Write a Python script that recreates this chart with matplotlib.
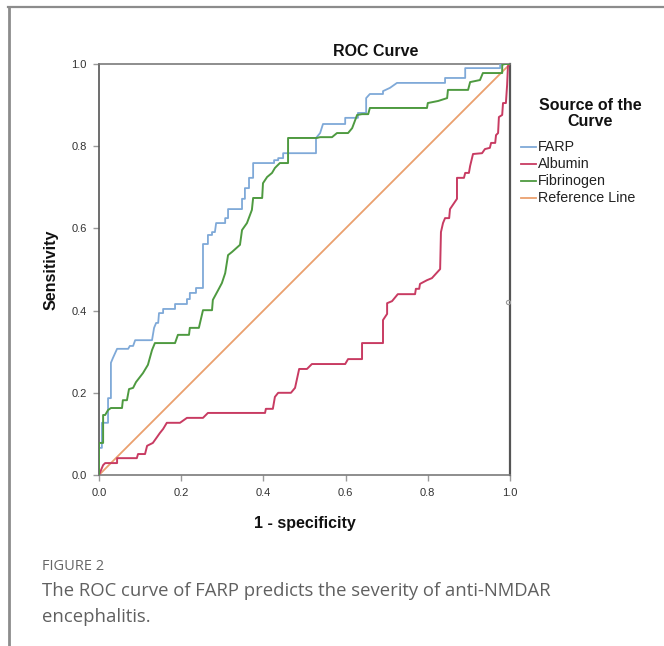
import matplotlib
matplotlib.use("Agg")
import matplotlib.pyplot as plt
from matplotlib.lines import Line2D

# ---------------- data ----------------
farp_x = [0, 0, 0.007, 0.007, 0.022, 0.022, 0.029, 0.029, 0.034, 0.044, 0.071, 0.075, 0.083, 0.088,
          0.129, 0.134, 0.139, 0.144, 0.146, 0.156, 0.156, 0.185, 0.185, 0.214, 0.214, 0.221, 0.221,
          0.236, 0.236, 0.253, 0.253, 0.265, 0.265, 0.275, 0.275, 0.282, 0.285, 0.307, 0.307, 0.314,
          0.314, 0.348, 0.348, 0.355, 0.355, 0.365, 0.365, 0.375, 0.375, 0.426, 0.426, 0.436, 0.436,
          0.448, 0.448, 0.528, 0.528, 0.538, 0.545, 0.599, 0.599, 0.630, 0.630, 0.650, 0.650, 0.659,
          0.691, 0.691, 0.708, 0.725, 0.842, 0.842, 0.891, 0.891, 0.976, 0.976, 1.0]
farp_y = [0, 0.066, 0.066, 0.127, 0.127, 0.187, 0.187, 0.273, 0.285, 0.307, 0.307, 0.314, 0.314, 0.328,
          0.328, 0.358, 0.370, 0.370, 0.394, 0.394, 0.404, 0.404, 0.416, 0.416, 0.428, 0.428, 0.443,
          0.443, 0.455, 0.455, 0.562, 0.562, 0.584, 0.584, 0.591, 0.591, 0.613, 0.613, 0.625, 0.625,
          0.647, 0.647, 0.672, 0.672, 0.698, 0.698, 0.723, 0.723, 0.759, 0.759, 0.766, 0.766, 0.771,
          0.771, 0.783, 0.783, 0.820, 0.832, 0.854, 0.854, 0.869, 0.869, 0.881, 0.881, 0.917, 0.927,
          0.927, 0.934, 0.942, 0.954, 0.954, 0.966, 0.966, 0.990, 0.990, 1.0, 1.0]

fib_px = [99, 99, 103, 103, 105, 108, 111, 122, 123, 127, 129, 133, 136, 143, 148, 152, 155, 175, 178,
          189, 190, 199, 203, 212, 213, 218, 222, 225, 228, 232, 240, 242, 247, 252, 253, 262, 263,
          267, 272, 275, 280, 288, 288, 317, 320, 332, 337, 348, 352, 357, 362, 368, 370, 427, 428,
          438, 447, 448, 468, 470, 480, 483, 502, 502, 505, 510]
fib_py = [475, 443, 443, 415, 415, 410, 408, 408, 400, 400, 389, 388, 382, 373, 365, 350, 343, 343, 335,
          335, 328, 328, 310, 310, 300, 290, 283, 273, 255, 252, 245, 230, 223, 210, 198, 198, 183,
          177, 173, 168, 163, 163, 138, 138, 137, 137, 133, 133, 128, 115, 114, 114, 108, 108, 103,
          101, 98, 90, 90, 82, 80, 73, 73, 65, 64, 64]
fib_x = [round((p - 99) / 411, 3) for p in fib_px]
fib_y = [round((475 - p) / 411, 3) for p in fib_py]

alb_px = [99, 100, 103, 105, 117, 117, 137, 138, 145, 147, 153, 157, 160, 163, 167, 180, 187, 203, 208,
          265, 266, 273, 275, 278, 291, 295, 299, 307, 312, 345, 348, 362, 362, 383, 383, 387, 387,
          392, 398, 415, 416, 419, 420, 427, 432, 440, 441, 443, 445, 449, 450, 457, 457, 464, 465,
          469, 470, 473, 482, 485, 490, 491, 495, 496, 498, 499, 502, 503, 506, 507, 508, 510]
alb_py = [475, 473, 465, 463, 463, 458, 458, 454, 454, 446, 443, 437, 433, 429, 423, 423, 418, 418, 413,
          413, 409, 409, 397, 393, 393, 388, 369, 369, 364, 364, 359, 359, 343, 343, 320, 314, 303,
          301, 294, 294, 289, 289, 284, 280, 278, 269, 232, 223, 218, 218, 209, 199, 178, 178, 173,
          173, 166, 154, 153, 149, 148, 143, 143, 135, 133, 117, 115, 103, 103, 85, 66, 64]
alb_x = [round((p - 99) / 411, 3) for p in alb_px]
alb_y = [round((475 - p) / 411, 3) for p in alb_py]

ref_x = [0.0, 1.0]
ref_y = [0.0, 1.0]

series_names = ["FARP", "Albumin", "Fibrinogen", "Reference Line"]
series_colors = ["#7fa9d8", "#c83b62", "#4e9a40", "#eaa06e"]
ticks = [0.0, 0.2, 0.4, 0.6, 0.8, 1.0]
tick_labels = ["0.0", "0.2", "0.4", "0.6", "0.8", "1.0"]

# ---------------- figure ----------------
W, H = 664, 646
fig = plt.figure(figsize=(W / 100, H / 100), dpi=100)
fig.patch.set_facecolor("white")

def fx(px):
    return px / W

def fy(py):
    return 1 - py / H

FONT = ["Liberation Sans", "DejaVu Sans"]

ax = fig.add_axes([fx(99), fy(475), fx(510) - fx(99), fy(64) - fy(475)])
ax.set_xlim(0, 1)
ax.set_ylim(0, 1)

ax.plot(farp_x, farp_y, color=series_colors[0], lw=1.3, zorder=3)
ax.plot(alb_x, alb_y, color=series_colors[1], lw=1.4, zorder=3)
ax.plot(fib_x, fib_y, color=series_colors[2], lw=1.4, zorder=3)
ax.plot(ref_x, ref_y, color=series_colors[3], lw=1.3, zorder=2)
ax.plot([0.995], [0.421], marker="o", ms=3, mfc="none", mec="#9a9a9a", mew=0.8, ls="none", zorder=4)

for side in ["left", "bottom", "top", "right"]:
    ax.spines[side].set_color("#7a7a7a")
    ax.spines[side].set_linewidth(1.2)
ax.spines["left"].set_color("#555555")
ax.spines["right"].set_color("#555555")
ax.spines["right"].set_linewidth(1.6)

ax.set_xticks(ticks)
ax.set_yticks(ticks)
ax.set_xticklabels(tick_labels, fontsize=8, color="#333333", family=FONT)
ax.set_yticklabels(tick_labels, fontsize=8, color="#333333", family=FONT)
ax.tick_params(direction="out", length=4, width=1, color="#9a9a9a", pad=5)

ax.text(0.674, 1.03, "ROC Curve", transform=ax.transAxes, ha="center", va="center",
        fontsize=11.5, fontweight="bold", family=FONT, color="#111111")
ax.set_xlabel("1 - specificity", fontsize=11.5, fontweight="bold", family=FONT, color="#111111",
              labelpad=13)
ax.set_ylabel("Sensitivity", fontsize=11.5, fontweight="bold", family=FONT, color="#111111",
              labelpad=9)

# ---------------- legend ----------------
fig.text(fx(590), fy(105), "Source of the", ha="center", va="center", fontsize=11.5,
         fontweight="bold", family=FONT, color="#111111")
fig.text(fx(590), fy(122), "Curve", ha="center", va="center", fontsize=11.5,
         fontweight="bold", family=FONT, color="#111111")
for i, (name, col) in enumerate(zip(series_names, series_colors)):
    yy = fy(147 + 17 * i)
    fig.add_artist(Line2D([fx(521), fx(536)], [yy, yy], color=col, lw=1.3))
    fig.text(fx(538), yy, name, ha="left", va="center", fontsize=10.3, family=FONT,
             color="#222222")

# ---------------- frame and caption ----------------
fig.add_artist(Line2D([fx(8.5), fx(8.5)], [fy(7), 0], color="#8c8c8c", lw=2))
fig.add_artist(Line2D([fx(7.5), 1], [fy(7), fy(7)], color="#8c8c8c", lw=1.6))

CAP = ["Open Sans", "DejaVu Sans"]
fig.text(fx(42), fy(567), "FIGURE 2", ha="left", va="center", fontsize=10.5, family=CAP,
         color="#666666")
fig.text(fx(42), fy(591), "The ROC curve of FARP predicts the severity of anti-NMDAR",
         ha="left", va="center", fontsize=13.3, family=CAP, color="#606060")
fig.text(fx(42), fy(617), "encephalitis.", ha="left", va="center", fontsize=13.3, family=CAP,
         color="#606060")

fig.savefig("out.png", dpi=100, facecolor="white")
